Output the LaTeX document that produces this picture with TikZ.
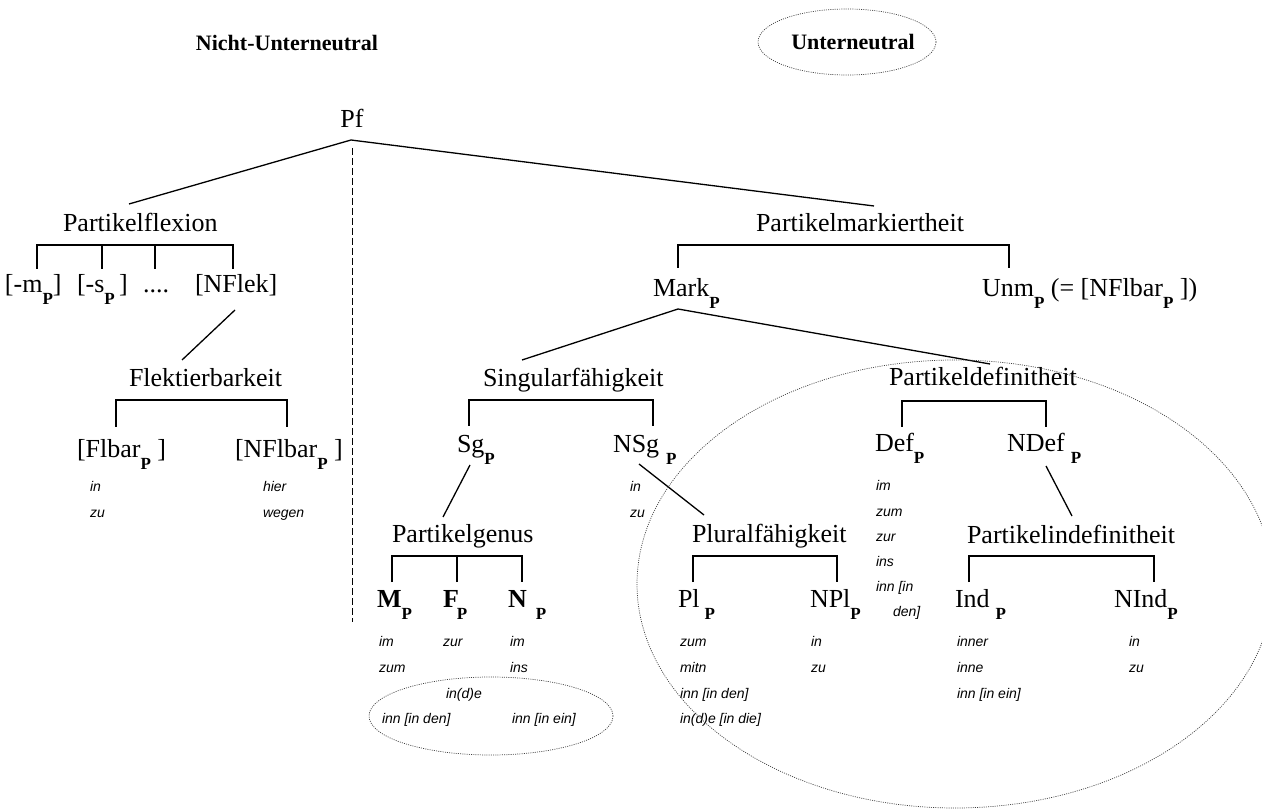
\documentclass[tikz,border=0pt]{standalone}
\usepackage{fontspec}
\setmainfont{Liberation Serif}
\newfontfamily\exfont{Liberation Sans}
\newcommand{\Ps}{\raisebox{-12pt}{\fontsize{17}{17}\selectfont\bfseries P}}
\begin{document}
\begin{tikzpicture}[x=1pt,y=-1pt,
  every node/.style={inner sep=0pt,outer sep=0pt},
  tree/.style={font=\fontsize{26}{30}\selectfont,anchor=base west},
  treec/.style={font=\fontsize{26}{30}\selectfont,anchor=base},
  hdr/.style={font=\fontsize{22}{26}\selectfont\bfseries,anchor=center},
  ex/.style={font=\exfont\itshape\fontsize{14}{16}\selectfont,anchor=base west},
  edge/.style={line width=1.3pt},
  sepline/.style={line width=1pt,dash pattern=on 7pt off 3pt},
  dotell/.style={line width=0.7pt,draw=black!75,dash pattern=on 1pt off 1.2pt}]
\useasboundingbox (0,0) rectangle (1262,810);

% headers
\node[hdr] (hN) at (287,43) {Nicht-Unterneutral};
\node[hdr] (hU) at (853,42) {Unterneutral};
\draw[dotell] ([xshift=-6pt]hU.center) ellipse [x radius=89pt,y radius=33pt];

% root
\node[treec] (pf) at (352,128) {Pf};
\coordinate (pfA) at (351,140);
\coordinate (pflexT) at (129,204);
\coordinate (pmarkT) at (874,206);
\draw[edge] (pflexT) -- (pfA) -- (pmarkT);
\coordinate (sepT) at (352,148);
\coordinate (sepB) at (352,622);
\draw[sepline] (sepT) -- (sepB);

% ---- left: Partikelflexion
\node[tree] (pflex) at (63,232) {Partikelflexion};
\coordinate (b1) at (0,245);
\coordinate (v11) at (37,269);
\coordinate (v12) at (102,269);
\coordinate (v13) at (155,269);
\coordinate (v14) at (233,269);
\draw[edge] (v11) -- (v11 |- b1) -- (v14 |- b1) -- (v14);
\draw[edge] (v12) -- (v12 |- b1);
\draw[edge] (v13) -- (v13 |- b1);
\node[tree] (fm) at (5,293) {[-m\Ps]};
\node[tree] (fs) at (77,293) {[-s\Ps\,]};
\node[tree] (fdots) at (143,293) {....};
\node[tree] (nflek) at (195,293) {[NFlek]};
\coordinate (nflekB) at (235,310);
\coordinate (flbT) at (182,360);
\draw[edge] (nflekB) -- (flbT);

\node[tree] (flb) at (129,387) {Flektierbarkeit};
\coordinate (b2) at (0,400);
\coordinate (v21) at (116,427);
\coordinate (v22) at (287,427);
\draw[edge] (v21) -- (v21 |- b2) -- (v22 |- b2) -- (v22);
\node[tree] (flbar) at (77,457) {[Flbar\Ps\ ]};
\node[tree] (nflbar) at (235,457) {[NFlbar\Ps\ ]};
\node[ex] (e1) at (90,491) {in};
\node[ex] (e2) at (90,517) {zu};
\node[ex] (e3) at (263,491) {hier};
\node[ex] (e4) at (263,517) {wegen};

% ---- right: Partikelmarkiertheit
\node[tree] (pmark) at (756,232) {Partikelmarkiertheit};
\coordinate (b3) at (0,245);
\coordinate (v31) at (678,268);
\coordinate (v32) at (1009,268);
\draw[edge] (v31) -- (v31 |- b3) -- (v32 |- b3) -- (v32);
\node[tree] (mark) at (653,297) {Mark\Ps};
\node[tree] (unm) at (982,297) {Unm\Ps\ (= [NFlbar\Ps\ ])};
\coordinate (markA) at (678,309);
\coordinate (singT) at (522,360);
\coordinate (pdefT) at (990,364);
\draw[edge] (singT) -- (markA) -- (pdefT);

% Singularfaehigkeit
\node[tree] (sing) at (483,387) {Singularfähigkeit};
\coordinate (b4) at (0,400);
\coordinate (v41) at (469,426);
\coordinate (v42) at (653,426);
\draw[edge] (v41) -- (v41 |- b4) -- (v42 |- b4) -- (v42);
\node[tree] (sg) at (457,453) {Sg\Ps};
\node[tree] (nsg) at (613,453) {NSg\kern7pt\Ps};
\coordinate (sgB) at (470,465);
\coordinate (genT) at (443,517);
\draw[edge] (sgB) -- (genT);
\node[ex] (e5) at (630,491) {in};
\node[ex] (e6) at (630,517) {zu};
\coordinate (nsgB) at (639,464);
\coordinate (plurT) at (704,515);
\draw[edge] (nsgB) -- (plurT);

% Partikelgenus
\node[tree] (gen) at (392,542) {Partikelgenus};
\coordinate (b5) at (0,556);
\coordinate (v51) at (392,582);
\coordinate (v52) at (457,582);
\coordinate (v53) at (522,582);
\draw[edge] (v51) -- (v51 |- b5) -- (v53 |- b5) -- (v53);
\draw[edge] (v52) -- (v52 |- b5);
\node[tree,font=\fontsize{26}{30}\selectfont\bfseries] (mp) at (377,607) {M\Ps};
\node[tree,font=\fontsize{26}{30}\selectfont\bfseries] (fp) at (443,607) {F\kern-2pt\Ps};
\node[tree,font=\fontsize{26}{30}\selectfont\bfseries] (np) at (508,607) {N\kern9pt\Ps};
\node[ex] (g1) at (379,646) {im};
\node[ex] (g2) at (379,672) {zum};
\node[ex] (g3) at (443,646) {zur};
\node[ex] (g4) at (510,646) {im};
\node[ex] (g5) at (510,672) {ins};
\node[ex] (g6) at (446,698) {in(d)e};
\node[ex] (g7) at (382,723) {inn [in den]};
\node[ex] (g8) at (512,723) {inn [in ein]};
\draw[dotell] (491,716) ellipse [x radius=122pt,y radius=39pt];

% Pluralfaehigkeit
\node[tree] (plur) at (692,542) {Pluralfähigkeit};
\coordinate (b6) at (0,556);
\coordinate (v61) at (693,582);
\coordinate (v62) at (837,582);
\draw[edge] (v61) -- (v61 |- b6) -- (v62 |- b6) -- (v62);
\node[tree] (pl) at (678,607) {Pl\kern5pt\Ps};
\node[tree] (npl) at (810,607) {NPl\Ps};
\node[ex] (p1) at (680,646) {zum};
\node[ex] (p2) at (680,672) {mitn};
\node[ex] (p3) at (680,698) {inn [in den]};
\node[ex] (p4) at (680,723) {in(d)e [in die]};
\node[ex] (p5) at (811,646) {in};
\node[ex] (p6) at (811,672) {zu};

% Partikeldefinitheit
\node[tree] (pdef) at (889,386) {Partikeldefinitheit};
\coordinate (b7) at (0,401);
\coordinate (v71) at (902,427);
\coordinate (v72) at (1046,427);
\draw[edge] (v71) -- (v71 |- b7) -- (v72 |- b7) -- (v72);
\node[tree] (def) at (875,452) {Def\Ps};
\node[tree] (ndef) at (1007,452) {NDef\kern6pt\Ps};
\node[ex] (d1) at (876,490) {im};
\node[ex] (d2) at (876,516) {zum};
\node[ex] (d3) at (876,541) {zur};
\node[ex] (d4) at (876,566) {ins};
\node[ex] (d5) at (876,591) {inn [in};
\node[ex] (d6) at (893,616) {den]};
\coordinate (ndefB) at (1046,466);
\coordinate (pindT) at (1072,516);
\draw[edge] (ndefB) -- (pindT);

% Partikelindefinitheit
\node[tree] (pind) at (967,543) {Partikelindefinitheit};
\coordinate (b8) at (0,556);
\coordinate (v81) at (969,582);
\coordinate (v82) at (1154,582);
\draw[edge] (v81) -- (v81 |- b8) -- (v82 |- b8) -- (v82);
\node[tree] (ind) at (955,607) {Ind\kern6pt\Ps};
\node[tree] (nind) at (1114,607) {NInd\Ps};
\node[ex] (i1) at (957,646) {inner};
\node[ex] (i2) at (957,672) {inne};
\node[ex] (i3) at (957,698) {inn [in ein]};
\node[ex] (i4) at (1129,646) {in};
\node[ex] (i5) at (1129,672) {zu};

% big dotted ellipse
\draw[dotell] (955,584) ellipse [x radius=318pt,y radius=224pt];
\end{tikzpicture}
\end{document}
